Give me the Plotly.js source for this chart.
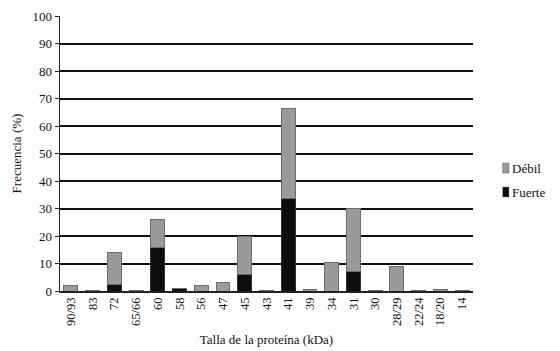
<!DOCTYPE html>
<html><head><meta charset="utf-8">
<script src="https://cdn.plot.ly/plotly-3.0.1.min.js"></script>
<style>html,body{margin:0;padding:0;background:#fff}#c{width:560px;height:351px}</style>
</head><body><div id="c"></div>
<script>
var categories = ["90/93","83","72","65/66","60","58","56","47","45","43","41","39","34","31","30","28/29","22/24","18/20","14"];
var fuerte = [0,0,2.5,0,16,1,0,0,6,0,33.5,0,0,7,0,0,0,0,0];
var debil  = [2,0.3,11.5,0.3,10,0,2,3,14,0.3,33,0.6,10.5,23,0.3,9,0.3,0.6,0.3];
var yTicks = [0,10,20,30,40,50,60,70,80,90,100];
var seriesNames = ['Débil','Fuerte'];
var seriesColors = ['#9a9a9a','#0d0d0d'];

var ff = '"Liberation Serif","Times New Roman",serif';
var traces = [
  {type:'bar', name:seriesNames[1], x:categories, y:fuerte, marker:{color:seriesColors[1], line:{color:'#333', width:1}}},
  {type:'bar', name:seriesNames[0], x:categories, y:debil, marker:{color:seriesColors[0], line:{color:'#6e6e6e', width:1}}}
];
var shapes = [], annotations = [];
seriesNames.forEach(function(n,i){
  var yc = 0.447 - i*0.087;
  shapes.push({type:'rect', xref:'paper', yref:'paper', x0:1.072, x1:1.087, y0:yc-0.018, y1:yc+0.018,
               fillcolor:seriesColors[i], line:{color:'#555', width:0.5}});
  annotations.push({xref:'paper', yref:'paper', x:1.09, y:yc, xanchor:'left', yanchor:'middle', showarrow:false,
               text:n, font:{family:ff, size:13, color:'#111'}});
});
var layout = {
  width:560, height:351, barmode:'stack', bargap:0.36,
  margin:{l:60, r:87, t:16, b:60},
  paper_bgcolor:'#fff', plot_bgcolor:'#fff',
  font:{family:ff, size:12, color:'#111'}, showlegend:false,
  shapes:shapes, annotations:annotations,
  xaxis:{type:'category', tickangle:-90, ticks:'', showgrid:false, showline:true, linecolor:'#222', linewidth:1.5,
         tickfont:{family:ff, size:12.5, color:'#111'},
         title:{text:'Talla de la proteína (kDa)', font:{family:ff, size:13, color:'#111'}, standoff:10}},
  yaxis:{range:[0,100], tickvals:yTicks, showgrid:true, gridcolor:'#111', gridwidth:2, zeroline:false,
         showline:true, linecolor:'#222', linewidth:1.5, ticks:'outside', ticklen:4, tickcolor:'#222',
         tickfont:{family:ff, size:13, color:'#111'},
         title:{text:'Frecuencia (%)', font:{family:ff, size:13, color:'#111'}, standoff:8}}
};
Plotly.newPlot('c', traces, layout, {displayModeBar:false, staticPlot:true});
</script></body></html>
